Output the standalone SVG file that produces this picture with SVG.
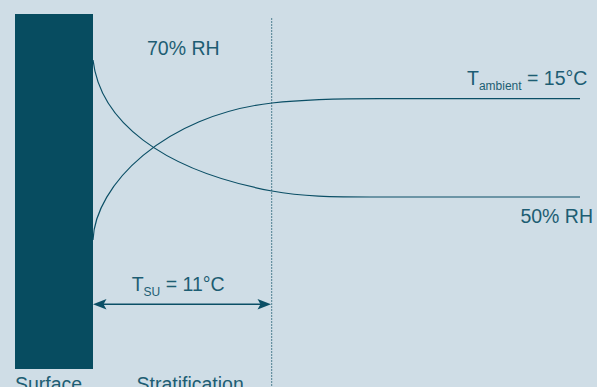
<svg xmlns="http://www.w3.org/2000/svg" width="597" height="387" viewBox="0 0 597 387">
<style>
text{font-family:"Liberation Sans",Arial,sans-serif;font-size:19.5px;fill:#1d5d73}
.sub{font-size:12px}
.curve{fill:none;stroke:#0b4f66;stroke-width:1.2}
.head{fill:#0b4f66}
</style>
<rect width="597" height="387" fill="#cfdde6"/>
<g id="surface">
<rect x="15" y="14" width="78" height="355" fill="#074c60"/>
<text x="15" y="391">Surface</text>
</g>
<g id="stratification">
<line x1="271.7" y1="18" x2="271.7" y2="387" stroke="#4f7f91" stroke-width="1" stroke-dasharray="2,1"/>
<text x="136.5" y="391">Stratification</text>
</g>
<g id="connectors">
<path id="rh-curve" class="curve" d="M93,60 C100,120 160,170 272,191 C302,196.6 330,197 380,197 L580,197"/>
<path id="t-curve" class="curve" d="M93,240 C95,185 165,115 272,103 C300,100 330,98.7 380,98.7 L580,98.7"/>
<line x1="100" y1="304.3" x2="264" y2="304.3" stroke="#0b4f66" stroke-width="1.4"/>
<path class="head" d="M93,304.3 L106.5,299 L103.5,304.3 L106.5,309.6 Z"/>
<path class="head" d="M271,304.3 L257.5,299 L260.5,304.3 L257.5,309.6 Z"/>
</g>
<g id="labels">
<text x="147" y="55">70% RH</text>
<text x="593" y="223" text-anchor="end">50% RH</text>
<text x="467" y="85.3">T<tspan class="sub" dy="4.7">ambient</tspan><tspan dy="-4.7"> = 15°C</tspan></text>
<text x="131.7" y="291">T<tspan class="sub" font-size="10.5" dy="5">SU</tspan><tspan dy="-5"> = 11°C</tspan></text>
</g>
</svg>
